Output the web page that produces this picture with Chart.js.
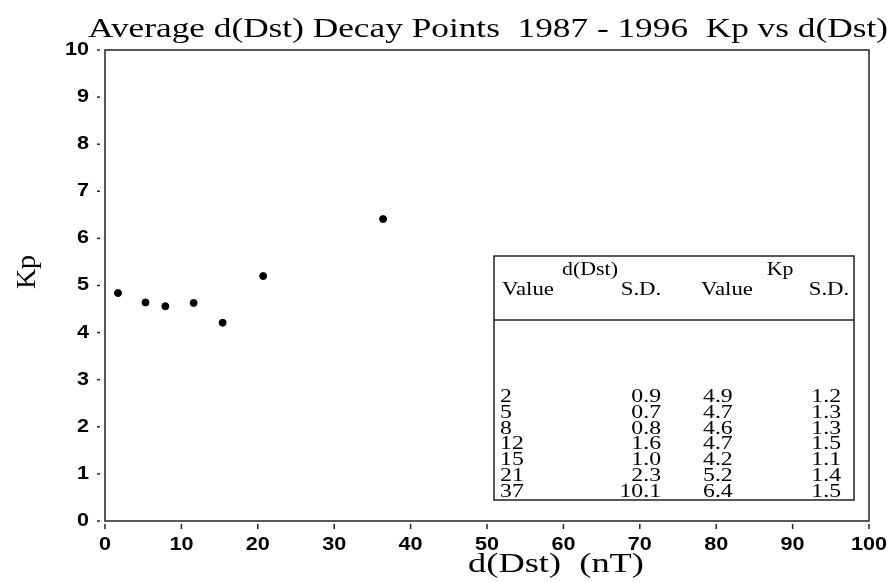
<!DOCTYPE html>
<html>
<head>
<meta charset="utf-8">
<script src="https://cdn.jsdelivr.net/npm/chart.js@4.4.1/dist/chart.umd.min.js"></script>
<style>
  html, body { margin: 0; padding: 0; background: #fff; }
  #wrap { width: 890px; height: 582px; }
</style>
</head>
<body>
<div id="wrap"><canvas id="chart1" width="890" height="582"></canvas></div>
<script>
// plotted decay points
var dstPoints = [1.7, 5.3, 7.9, 11.6, 15.4, 20.7, 36.4];
var kpPoints = [4.84, 4.64, 4.56, 4.63, 4.21, 5.2, 6.41];

// inset table
var dstValue = ["2", "5", "8", "12", "15", "21", "37"];
var dstSD = ["0.9", "0.7", "0.8", "1.6", "1.0", "2.3", "10.1"];
var kpValue = ["4.9", "4.7", "4.6", "4.7", "4.2", "5.2", "6.4"];
var kpSD = ["1.2", "1.3", "1.3", "1.5", "1.1", "1.4", "1.5"];

var xTicks = [0, 10, 20, 30, 40, 50, 60, 70, 80, 90, 100];
var yTicks = [0, 1, 2, 3, 4, 5, 6, 7, 8, 9, 10];

var titleText = "Average d(Dst) Decay Points  1987 - 1996  Kp vs d(Dst)";
var xTitle = "d(Dst)  (nT)";
var yTitle = "Kp";

var serif = "'Liberation Serif', 'DejaVu Serif', serif";
var sans = "'Liberation Sans', Arial, sans-serif";

// 가로로 늘린 글자 출력
function wideText(ctx, text, x, y, align, sx) {
    ctx.save();
    ctx.translate(x, y);
    ctx.scale(sx, 1);
    ctx.textAlign = align;
    ctx.fillText(text, 0, 0);
    ctx.restore();
}

// 프레임, 눈금, 제목, 표
var decorPlugin = {
    id: "decor",
    afterDraw: function(chart) {
        var ctx = chart.ctx;
        var a = chart.chartArea;
        var xs = chart.scales.x;
        var ys = chart.scales.y;
        ctx.save();

        // frame
        ctx.strokeStyle = "#222";
        ctx.lineWidth = 1.5;
        ctx.strokeRect(a.left, a.top, a.right - a.left, a.bottom - a.top);

        // tick dashes + labels
        ctx.fillStyle = "#000";
        ctx.font = "bold 18px " + sans;
        ctx.textBaseline = "middle";
        yTicks.forEach(function(v) {
            var py = ys.getPixelForValue(v);
            ctx.beginPath();
            ctx.moveTo(a.left - 8, py);
            ctx.lineTo(a.left - 5, py);
            ctx.stroke();
            wideText(ctx, String(v), 89, py, "right", 1.2);
        });
        xTicks.forEach(function(v) {
            var px = xs.getPixelForValue(v);
            ctx.beginPath();
            ctx.moveTo(px, a.bottom + 3);
            ctx.lineTo(px, a.bottom + 8);
            ctx.stroke();
            wideText(ctx, String(v), px, 545, "center", 1.2);
        });

        // titles
        ctx.font = "28px " + serif;
        ctx.textBaseline = "alphabetic";
        wideText(ctx, titleText, 488, 37, "center", 1.26);
        wideText(ctx, xTitle, 556, 572, "center", 1.3);
        ctx.save();
        ctx.translate(35, 272);
        ctx.rotate(-Math.PI / 2);
        ctx.textAlign = "center";
        ctx.fillText(yTitle, 0, 0);
        ctx.restore();

        // inset table
        var tx = 494, ty = 256, tw = 360, th = 244;
        ctx.fillStyle = "#fff";
        ctx.fillRect(tx, ty, tw, th);
        ctx.strokeStyle = "#222";
        ctx.lineWidth = 1.5;
        ctx.strokeRect(tx, ty, tw, th);
        ctx.beginPath();
        ctx.moveTo(tx, 320);
        ctx.lineTo(tx + tw, 320);
        ctx.stroke();

        ctx.fillStyle = "#000";
        ctx.font = "19px " + serif;
        ctx.textBaseline = "middle";
        wideText(ctx, "d(Dst)", 590, 270, "center", 1.15);
        wideText(ctx, "Kp", 780, 270, "center", 1.15);
        wideText(ctx, "Value", 528, 290, "center", 1.2);
        wideText(ctx, "S.D.", 641, 290, "center", 1.2);
        wideText(ctx, "Value", 727, 290, "center", 1.2);
        wideText(ctx, "S.D.", 829, 290, "center", 1.2);

        for (var i = 0; i < dstValue.length; i++) {
            var ry = 397 + i * 15.8;
            wideText(ctx, dstValue[i], 500, ry, "left", 1.25);
            wideText(ctx, dstSD[i], 661, ry, "right", 1.25);
            wideText(ctx, kpValue[i], 703, ry, "left", 1.25);
            wideText(ctx, kpSD[i], 841, ry, "right", 1.25);
        }
        ctx.restore();
    }
};

var chart1 = new Chart(document.getElementById("chart1"), {
    type: "scatter",
    data: {
        datasets: [{
            data: dstPoints.map(function(x, i) { return { x: x, y: kpPoints[i] }; }),
            backgroundColor: "#000",
            borderColor: "#000",
            pointRadius: 3.5,
            pointHoverRadius: 3.5
        }]
    },
    options: {
        responsive: false,
        animation: false,
        events: [],
        layout: { padding: { top: 50, right: 21, left: 0, bottom: 0 } },
        plugins: {
            legend: { display: false },
            tooltip: { enabled: false }
        },
        scales: {
            x: {
                type: "linear",
                min: 0,
                max: 100,
                afterFit: function(s) { s.height = 61; },
                afterBuildTicks: function(s) { s.ticks = xTicks.map(function(v) { return { value: v }; }); },
                grid: { display: false, drawTicks: false },
                border: { display: false },
                ticks: { display: false }
            },
            y: {
                min: 0,
                max: 10,
                afterFit: function(s) { s.width = 105; },
                afterBuildTicks: function(s) { s.ticks = yTicks.map(function(v) { return { value: v }; }); },
                grid: { display: false, drawTicks: false },
                border: { display: false },
                ticks: { display: false }
            }
        }
    },
    plugins: [decorPlugin]
});
</script>
</body>
</html>
